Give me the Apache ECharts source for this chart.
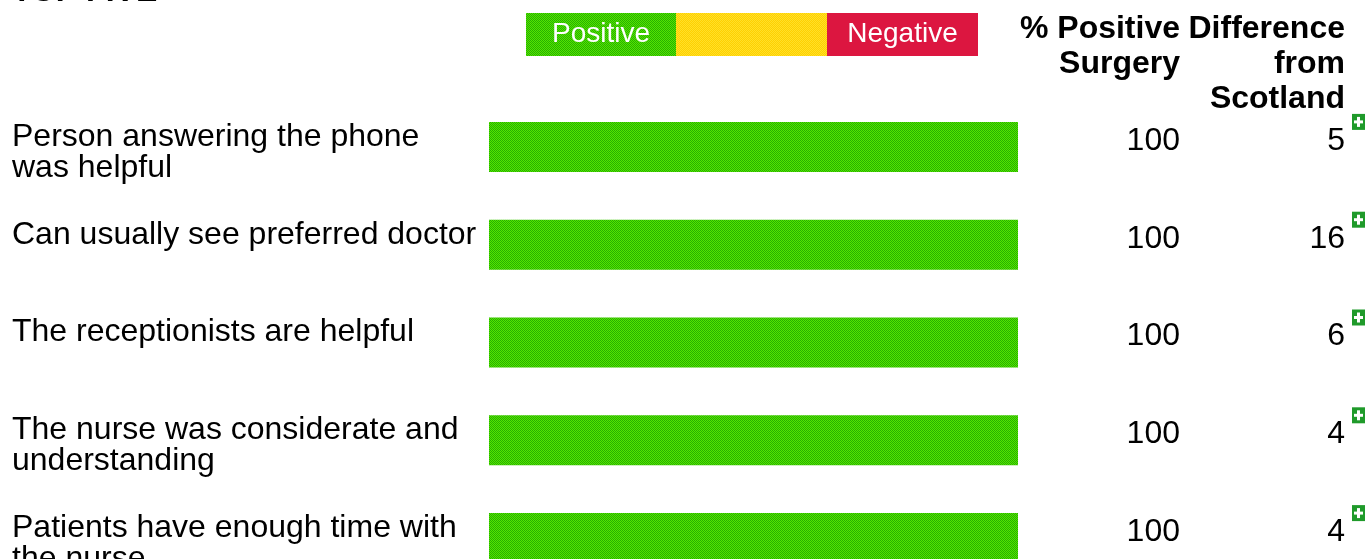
<!DOCTYPE html>
<html>
<head>
<meta charset="utf-8">
<script src="https://cdn.jsdelivr.net/npm/echarts@6/dist/echarts.min.js"></script>
<style>
html,body{margin:0;padding:0;background:#ffffff;overflow:hidden;}
#chart{width:1368px;height:600px;}
</style>
</head>
<body>
<div id="chart"></div>
<script>
// ---- data ----
const chartTitle = 'TOP FIVE';
const categories = [
  'Person answering the phone was helpful',
  'Can usually see preferred doctor',
  'The receptionists are helpful',
  'The nurse was considerate and understanding',
  'Patients have enough time with the nurse'
];
const positiveSurgery = [100, 100, 100, 100, 100];
const diffFromScotland = [5, 16, 6, 4, 4];
const legendLabels = ['Positive', '', 'Negative'];
const headerSurgery = ['% Positive', 'Surgery'];
const headerDiff = ['Difference', 'from', 'Scotland'];

// ---- styles ----
const FONT = "'Liberation Sans', Arial, sans-serif";
function checker(c1, c2) {
  const cv = document.createElement('canvas');
  cv.width = 2; cv.height = 2;
  const g = cv.getContext('2d');
  g.fillStyle = c1; g.fillRect(0, 0, 2, 2);
  g.fillStyle = c2; g.fillRect(0, 0, 1, 1); g.fillRect(1, 1, 1, 1);
  return cv;
}
const greenPattern = { image: checker('#55e400', '#26b000'), repeat: 'repeat' };
const yellowPattern = { image: checker('#ffd000', '#ffe028'), repeat: 'repeat' };

const chart = echarts.init(document.getElementById('chart'), null, { renderer: 'canvas' });

const legendX = [526, 676, 827];
const legendW = [150, 151, 151];
const legendFill = [greenPattern, yellowPattern, '#dc1640'];
const legendEls = [];
for (let i = 0; i < 3; i++) {
  legendEls.push({ type: 'rect', shape: { x: legendX[i], y: 13, width: legendW[i], height: 43 }, style: { fill: legendFill[i] }, silent: true });
  if (legendLabels[i]) {
    legendEls.push({ type: 'text', style: { text: legendLabels[i], x: legendX[i] + legendW[i] / 2, y: 34, align: 'center', verticalAlign: 'middle', fontSize: 28, fontFamily: FONT, fill: '#ffffff' }, silent: true });
  }
}

const LINE_H = 31;

const option = {
  animation: false,
  backgroundColor: '#ffffff',
  grid: { left: 489, right: 350, top: 98, height: 489, containLabel: false },
  xAxis: { type: 'value', min: 0, max: 100, show: false },
  yAxis: {
    type: 'category', inverse: true, data: categories,
    axisLine: { show: false }, axisTick: { show: false }, splitLine: { show: false },
    axisLabel: { show: false }
  },
  graphic: [
    { type: 'text', style: { text: chartTitle, x: 12, y: -24, fontSize: 32, fontWeight: 'bold', fontFamily: FONT, fill: '#000' }, silent: true },
    ...legendEls,
    { type: 'text', style: { text: headerSurgery.join('\n'), x: 1180, y: 12, align: 'right', verticalAlign: 'top', fontSize: 32, lineHeight: 35, fontWeight: 'bold', fontFamily: FONT, fill: '#000' }, silent: true },
    { type: 'text', style: { text: headerDiff.join('\n'), x: 1345, y: 12, align: 'right', verticalAlign: 'top', fontSize: 32, lineHeight: 35, fontWeight: 'bold', fontFamily: FONT, fill: '#000' }, silent: true }
  ],
  series: [
    {
      type: 'bar', data: positiveSurgery, barWidth: 50, silent: true,
      itemStyle: { color: greenPattern }
    },
    {
      type: 'custom', silent: true, clip: false,
      encode: { x: 1, y: 0 },
      data: categories.map((c, i) => [i, positiveSurgery[i], diffFromScotland[i]]),
      renderItem: function (params, api) {
        const idx = api.value(0);
        const p = api.coord([0, idx]);
        const c = p[1];
        const y = c - 6;
        const d = api.value(2);
        const children = [
          { type: 'text', style: { text: categories[idx], x: 12, y: c - 10 - LINE_H / 2, align: 'left', verticalAlign: 'top', width: 470, overflow: 'break', lineHeight: LINE_H, fontSize: 32, fontFamily: FONT, fill: '#000' } },
          { type: 'text', style: { text: String(api.value(1)), x: 1180, y: y, align: 'right', verticalAlign: 'middle', fontSize: 32, fontFamily: FONT, fill: '#000' } },
          { type: 'text', style: { text: String(d), x: 1345, y: y, align: 'right', verticalAlign: 'middle', fontSize: 32, fontFamily: FONT, fill: '#000' } }
        ];
        if (d > 0) {
          const ix = 1352, iy = c - 33;
          children.push({ type: 'rect', shape: { x: ix, y: iy, width: 13, height: 16 }, style: { fill: '#1f9a2a' } });
          children.push({ type: 'rect', shape: { x: ix + 5, y: iy + 3, width: 3, height: 10 }, style: { fill: '#ffffff' } });
          children.push({ type: 'rect', shape: { x: ix + 2, y: iy + 6.5, width: 9, height: 3 }, style: { fill: '#ffffff' } });
        }
        return { type: 'group', children: children };
      }
    }
  ]
};
chart.setOption(option);
</script>
</body>
</html>
